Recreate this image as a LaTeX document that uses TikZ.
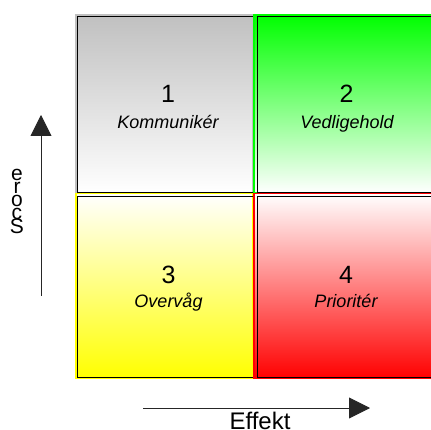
\documentclass[tikz,border=0pt]{standalone}
\usepackage{fontspec}
\setmainfont{Liberation Sans}
\usetikzlibrary{arrows.meta}
\definecolor{qgray}{RGB}{192,192,192}
\definecolor{qgreen}{RGB}{0,255,0}
\definecolor{qyellow}{RGB}{255,255,0}
\definecolor{qred}{RGB}{255,0,0}
\tikzset{
  outline/.style={draw=black, line width=0.9pt},
  numtxt/.style={anchor=base, inner sep=0pt, font=\fontsize{25}{25}\selectfont},
  labtxt/.style={anchor=base, inner sep=0pt, font=\fontsize{18}{18}\selectfont\itshape},
  axtxt/.style={anchor=base, inner sep=0pt, font=\fontsize{24}{24}\selectfont},
  sctxt/.style={anchor=base, inner sep=0pt, font=\fontsize{21}{21}\selectfont},
  axis/.style={draw=black!85, line width=0.9pt, -{Triangle[length=21pt,width=21pt]}}
}
\begin{document}
\begin{tikzpicture}[x=1pt,y=-1pt]
\useasboundingbox (0,0) rectangle (431,430);
\clip (0,0) rectangle (431,430);
\fill[white] (0,0) rectangle (431,430);
% quadrant 1
\shade[shading=axis, top color=qgray, bottom color=white, draw=qgray, line width=1.5pt] (75.75,14.75) rectangle (253,193);
\draw[outline] (77.5,16.5) rectangle (253,192.5);
% quadrant 2
\shade[shading=axis, top color=qgreen, bottom color=white, draw=qgreen, line width=1.5pt] (253.75,14.75) rectangle (440,193);
\draw[outline] (257,16.5) rectangle (440,192.5);
% quadrant 3
\shade[shading=axis, top color=white, bottom color=qyellow, draw=qyellow, line width=1.5pt] (75.75,193.75) rectangle (253,378);
\draw[outline] (77.5,196.5) rectangle (253,377);
% quadrant 4
\shade[shading=axis, top color=white, bottom color=qred, draw=qred, line width=1.5pt] (253.75,193.75) rectangle (440,378.5);
\draw[outline] (257,196.5) rectangle (440,377);
% texts
\node[numtxt] (n1) at (168,103) {1};
\node[labtxt] (l1) at (168,129) {Kommunikér};
\node[numtxt] (n2) at (346.5,103) {2};
\node[labtxt] (l2) at (347,129) {Vedligehold};
\node[numtxt] (n3) at (168.5,284) {3};
\node[labtxt] (l3) at (168.5,308) {Overvåg};
\node[numtxt] (n4) at (346,284) {4};
\node[labtxt] (l4) at (346,308) {Prioritér};
% axes
\coordinate (ya0) at (41,296);
\coordinate (ya1) at (41,115);
\draw[axis] (ya0) -- (ya1);
\coordinate (xa0) at (143,408);
\coordinate (xa1) at (370,408);
\draw[axis] (xa0) -- (xa1);
\node[axtxt] (ef) at (260,429) {Effekt};
% stacked Score label
\node[sctxt] (s5) at (17,181) {e};
\node[sctxt] (s4) at (17,194) {r};
\node[sctxt] (s3) at (17,207) {o};
\node[sctxt] (s2) at (17,220) {c};
\node[sctxt] (s1) at (17,234) {S};
\end{tikzpicture}
\end{document}
